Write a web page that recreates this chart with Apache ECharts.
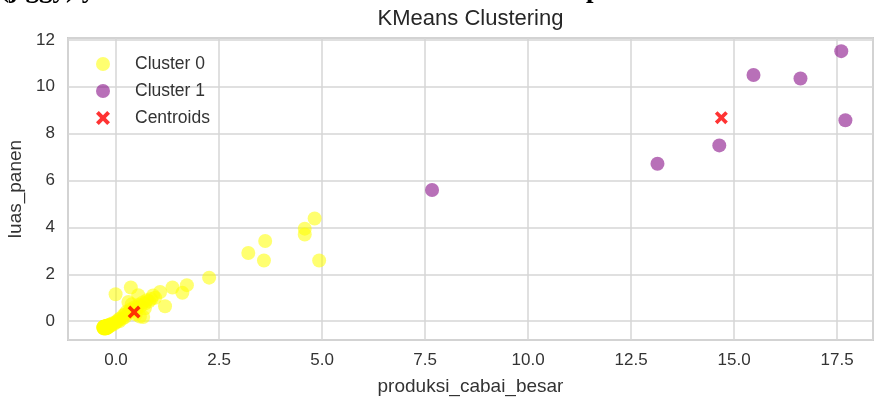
<!DOCTYPE html>
<html>
<head>
<meta charset="utf-8">
<script src="https://cdn.jsdelivr.net/npm/echarts@6/dist/echarts.min.js"></script>
<style>
html,body{margin:0;padding:0;background:#fff;}
#chart{width:874px;height:398px;}
</style>
</head>
<body>
<div id="chart"></div>
<script>
// ---- data (standardized values) ----
const cluster0 = [
  [4.82,4.38],[4.58,3.95],[4.58,3.70],[3.62,3.42],[3.21,2.91],[3.59,2.59],[4.93,2.59],[2.26,1.86],
  [1.72,1.54],[1.61,1.21],[1.37,1.44],[1.19,0.64],[0.36,1.44],[-0.01,1.15],[0.54,1.11],[0.90,1.10],
  [1.07,1.25],[0.30,0.82],[0.66,0.18],[0.22,0.18],
  [-0.30,-0.25],[-0.25,-0.30],[-0.22,-0.20],[-0.18,-0.22],[-0.15,-0.15],[-0.12,-0.18],[-0.10,-0.10],
  [-0.05,-0.12],[-0.02,-0.05],[0.02,-0.02],[0.05,0.05],[0.08,0.00],[0.10,0.12],[0.15,0.10],[0.18,0.25],
  [0.22,0.30],[0.25,0.40],[0.30,0.35],[0.35,0.50],[0.40,0.45],[0.45,0.60],[0.50,0.55],[0.55,0.70],
  [0.60,0.65],[0.65,0.80],[0.70,0.75],[0.75,0.90],[0.80,0.85],[0.85,0.95],[0.95,1.00],[0.48,0.30],
  [0.58,0.20],[0.38,0.72],[0.70,0.55],
  [-0.31,-0.28],[-0.29,-0.31],[-0.28,-0.26],[-0.27,-0.29],[-0.26,-0.27],[-0.30,-0.30],[-0.24,-0.26],
  [-0.25,-0.24],[-0.23,-0.27],[-0.28,-0.22],[-0.26,-0.30],[-0.22,-0.25],[-0.21,-0.22],[-0.29,-0.27],
  [-0.27,-0.24],[-0.24,-0.29],[-0.20,-0.21],[-0.19,-0.24],[-0.26,-0.21],[-0.30,-0.23],[-0.23,-0.19],
  [-0.17,-0.19],[-0.21,-0.28],[-0.28,-0.29],[-0.25,-0.27],[-0.22,-0.23],[-0.18,-0.17],[-0.16,-0.21],
  [-0.31,-0.26],[-0.27,-0.31],[-0.24,-0.22],[-0.20,-0.26],[-0.29,-0.24],[-0.26,-0.25],[-0.23,-0.30],
  [-0.14,-0.16],[-0.19,-0.20],[-0.28,-0.28],[-0.25,-0.22],[-0.21,-0.19]
];
const cluster1 = [
  [7.67,5.60],[13.14,6.72],[14.64,7.50],[15.47,10.50],[16.61,10.35],[17.60,11.52],[17.70,8.57]
];
const centroids = [[0.44,0.39],[14.69,8.68]];
const seriesNames = ['Cluster 0','Cluster 1','Centroids'];
const chartTitle = 'KMeans Clustering';
const xName = 'produksi_cabai_besar';
const yName = 'luas_panen';

// ---- chart ----
const X_ICON = 'path://M0,20L20,0L50,30L80,0L100,20L70,50L100,80L80,100L50,70L20,100L0,80L30,50Z';
const FONT = 'Liberation Sans, Arial, sans-serif';
const chart = echarts.init(document.getElementById('chart'), null, {renderer:'canvas'});
chart.setOption({
  animation:false,
  backgroundColor:'#ffffff',
  grid:{left:68,right:1,top:38,bottom:58,show:true,borderColor:'#cccccc',borderWidth:2,
    containLabel:false,outerBoundsMode:'none'},
  graphic:[
    {type:'text',position:[470.5,8],style:{text:chartTitle,x:0,y:0,fill:'#262626',font:'22px '+FONT,textAlign:'center'}},
    {type:'text',position:[0,-23],style:{text:'(jiggy) y',fill:'#000',font:'bold 27px Liberation Serif, serif'}},
    {type:'text',position:[586,-23],style:{text:'p',fill:'#000',font:'bold 27px Liberation Serif, serif'}}
  ],
  legend:{
    orient:'vertical',left:96,top:55,padding:0,itemGap:9,itemWidth:14,itemHeight:14,
    textStyle:{fontFamily:FONT,fontSize:17.5,color:'#333333',padding:[0,0,0,20]},
    data:[
      {name:seriesNames[0],icon:'circle'},
      {name:seriesNames[1],icon:'circle'},
      {name:seriesNames[2],icon:X_ICON}
    ]
  },
  xAxis:{
    type:'value',min:-1.165,max:18.37,minInterval:2.5,maxInterval:2.5,splitNumber:8,
    name:xName,nameLocation:'middle',nameGap:37,
    nameTextStyle:{fontFamily:FONT,fontSize:19,color:'#333333'},
    axisLine:{show:false},axisTick:{show:false},
    axisLabel:{showMinLabel:false,showMaxLabel:false,margin:12,fontFamily:FONT,fontSize:17,color:'#333333',
      formatter:v=>v.toFixed(1)},
    splitLine:{show:true,lineStyle:{color:'#d6d6d6',width:1.5}}
  },
  yAxis:{
    type:'value',min:-0.8,max:12.08,minInterval:2,maxInterval:2,splitNumber:6,
    name:yName,nameLocation:'middle',nameGap:42,
    nameTextStyle:{fontFamily:FONT,fontSize:19,color:'#333333'},
    axisLine:{show:false},axisTick:{show:false},
    axisLabel:{showMinLabel:false,showMaxLabel:false,margin:13,fontFamily:FONT,fontSize:17,color:'#333333'},
    splitLine:{show:true,lineStyle:{color:'#d6d6d6',width:1.5}}
  },
  series:[
    {name:seriesNames[0],type:'scatter',data:cluster0,symbol:'circle',symbolSize:14,
      itemStyle:{color:'rgba(255,255,0,0.7)'},z:2},
    {name:seriesNames[1],type:'scatter',data:cluster1,symbol:'circle',symbolSize:14,
      itemStyle:{color:'rgba(128,0,128,0.7)'},z:2},
    {name:seriesNames[2],type:'scatter',data:centroids,symbol:X_ICON,symbolSize:13,
      itemStyle:{color:'#ff0000'},z:3}
  ]
});
</script>
</body>
</html>
